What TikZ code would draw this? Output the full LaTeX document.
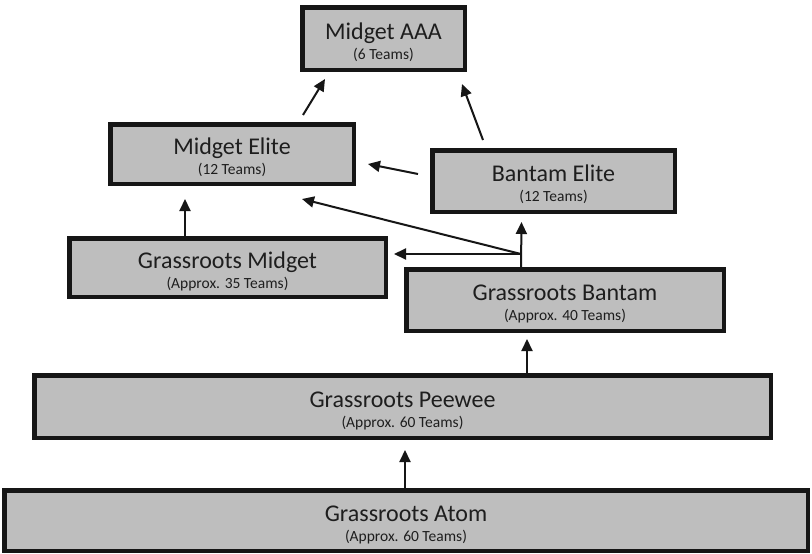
\documentclass[tikz,border=0pt]{standalone}
\usepackage{fontspec}
\setmainfont{Carlito}
\usetikzlibrary{arrows.meta,calc}
\definecolor{boxfill}{RGB}{190,190,190}
\definecolor{boxline}{RGB}{22,22,22}
\definecolor{txt}{RGB}{30,30,30}
\newcommand{\boxlabels}[3]{%
  \node[maintext] (#1-m) at ($(#1.center)+(0,0.5)$) {#2};
  \node[subtext] (#1-s) at ($(#1.center)+(0,20.5)$) {#3};}
\begin{document}
\begin{tikzpicture}[x=1pt,y=-1pt,
  box/.style={draw=boxline,fill=boxfill,line width=4.5pt,inner sep=0pt},
  maintext/.style={anchor=base,inner sep=0pt,text=txt,font=\fontsize{24}{28}\selectfont},
  subtext/.style={anchor=base,inner sep=0pt,text=txt,font=\fontsize{15.5}{18}\selectfont},
  arr/.style={draw=boxline,line width=2pt,-{Triangle[length=12pt,width=11pt]}}]
\useasboundingbox[fill=white] (0,0) rectangle (812,554);
\node[box,minimum width=162.5pt,minimum height=62.5pt] (AAA) at (383.5,38.5) {};
\node[box,minimum width=243.5pt,minimum height=59.5pt] (ME) at (232,154) {};
\node[box,minimum width=242.5pt,minimum height=61.5pt] (BE) at (553.5,181) {};
\node[box,minimum width=316.5pt,minimum height=58.5pt] (GM) at (227.5,267.5) {};
\node[box,minimum width=317.5pt,minimum height=61.5pt] (GB) at (565,300) {};
\node[box,minimum width=736.5pt,minimum height=62.5pt] (PW) at (402.5,406.5) {};
\node[box,minimum width=803.5pt,minimum height=60.5pt] (AT) at (406,520.5) {};
\boxlabels{AAA}{Midget AAA}{(6 Teams)}
\boxlabels{ME}{Midget Elite}{(12 Teams)}
\boxlabels{BE}{Bantam Elite}{(12 Teams)}
\boxlabels{GM}{Grassroots Midget}{(Approx. 35 Teams)}
\boxlabels{GB}{Grassroots Bantam}{(Approx. 40 Teams)}
\boxlabels{PW}{Grassroots Peewee}{(Approx. 60 Teams)}
\boxlabels{AT}{Grassroots Atom}{(Approx. 60 Teams)}
% arrows
\draw[arr] ($(ME.north east)+(-53,-7)$) -- ($(AAA.south west)+(25,7)$);
\draw[arr] ($(BE.north west)+(53,-8)$) -- ($(AAA.south east)+(-5,12)$);
\draw[arr] ($(BE.west)+(-12,-7)$) -- ($(ME.east)+(12,10)$);
\coordinate (J) at ($(GB.north west)+(117,-13)$);
\draw[arr] ($(GB.north west)+(117,0)$) -- ($(BE.south west)+(91.5,8)$);
\draw[arr] (J) -- ($(J -| GM.east)+(6,0)$);
\draw[arr] (J) -- ($(ME.south east)+(-54,13)$);
\draw[arr] ($(GM.north west)+(118,0)$) -- ($(ME.south west)+(77,13)$);
\draw[arr] ($(PW.north west)+(495,0)$) -- ($(GB.south west)+(123,6)$);
\draw[arr] ($(AT.north)+(-1,0)$) -- ($(PW.south)+(2.5,10)$);
\end{tikzpicture}
\end{document}
